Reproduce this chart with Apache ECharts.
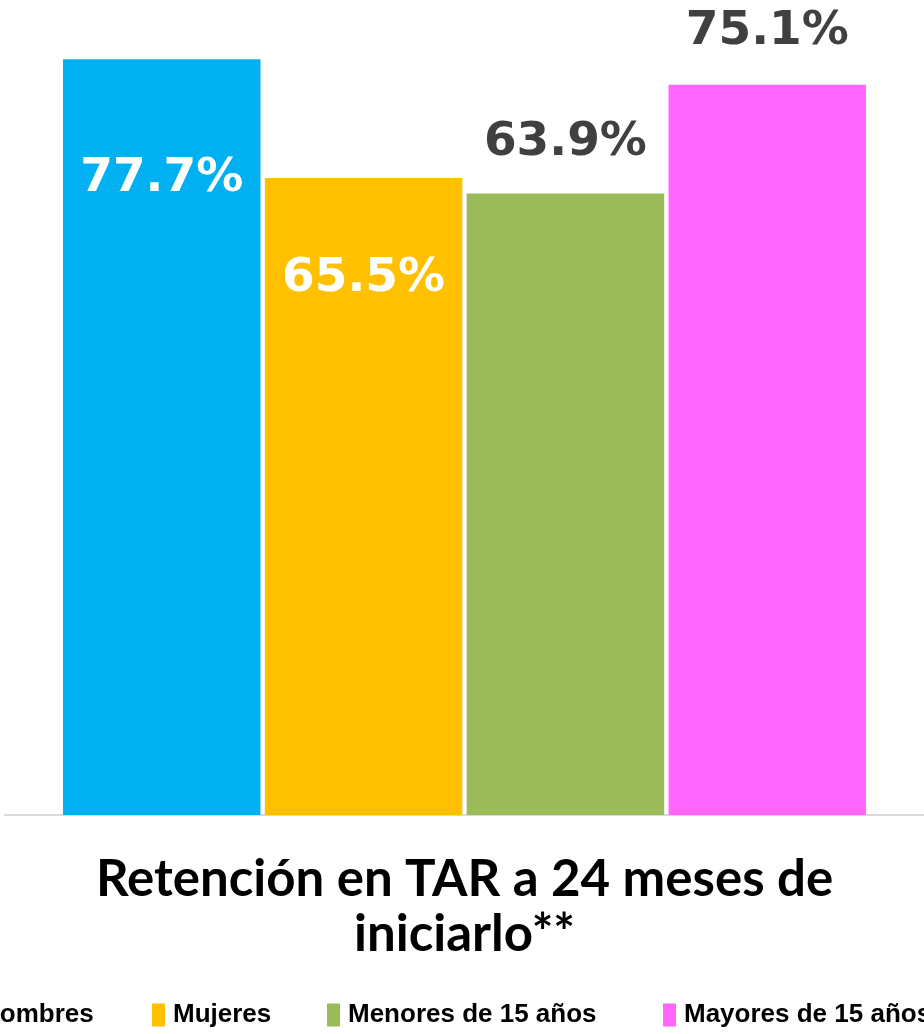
<!DOCTYPE html>
<html>
<head>
<meta charset="utf-8">
<script src="https://cdn.jsdelivr.net/npm/echarts@6/dist/echarts.min.js"></script>
<style>
  html, body { margin: 0; padding: 0; background: #ffffff; }
  #chart { width: 924px; height: 1034px; }
</style>
</head>
<body>
<div id="chart"></div>
<script>
// Retención en TAR a 24 meses, por grupo
const categories = ['Retención en TAR a 24 meses de\niniciarlo**'];
const seriesNames = ['Hombres', 'Mujeres', 'Menores de 15 años', 'Mayores de 15 años'];
const hombres = [77.7];
const mujeres = [65.5];
const menores15 = [63.9];
const mayores15 = [75.1];

const colors = ['#00B0F0', '#FFC000', '#9BBB59', '#FF66FF'];
const values = [hombres, mujeres, menores15, mayores15];

// Value labels: white inside the first two bars, dark grey above the other two
const labelBase = {
  show: true,
  fontFamily: 'DejaVu Sans',
  fontWeight: 'bold',
  fontSize: 47,
  formatter: '{c}%'
};
const labelStyles = [
  Object.assign({}, labelBase, { position: 'insideTop', distance: 96, color: '#ffffff' }),
  Object.assign({}, labelBase, { position: 'insideTop', distance: 77, color: '#ffffff' }),
  Object.assign({}, labelBase, { position: 'top', distance: 27, color: '#404040' }),
  Object.assign({}, labelBase, { position: 'top', distance: 29, color: '#404040' })
];

const series = seriesNames.map((name, i) => ({
  name: name,
  type: 'bar',
  data: values[i],
  barWidth: 197.5,
  barGap: '2.2%',
  itemStyle: { color: colors[i] },
  label: labelStyles[i]
}));

// One legend per entry so each can sit at its own spot along the bottom row
const legendLeft = [-40, 152, 327, 663];
const legends = seriesNames.map((name, i) => ({
  data: [name],
  left: legendLeft[i],
  top: 1002,
  padding: 0,
  icon: 'rect',
  itemWidth: 13,
  itemHeight: 23,
  selectedMode: false,
  textStyle: {
    fontFamily: '"Liberation Sans", Arial, sans-serif',
    fontWeight: 'bold',
    fontSize: 26,
    lineHeight: 23,
    color: '#000000',
    padding: [0, 0, 0, 3]
  }
}));

const chart = echarts.init(document.getElementById('chart'), null, { renderer: 'canvas' });
chart.setOption({
  animation: false,
  backgroundColor: '#ffffff',
  color: colors,
  grid: { left: 5, right: 0, top: 37, bottom: 219, containLabel: false },
  legend: legends,
  xAxis: {
    type: 'category',
    data: categories,
    axisLine: { show: true, lineStyle: { color: '#d9d9d9', width: 2 } },
    axisTick: { show: false },
    axisLabel: {
      margin: 37,
      color: '#000000',
      fontFamily: 'Lato, "Noto Sans", sans-serif',
      fontWeight: 'bold',
      fontSize: 51,
      lineHeight: 55,
      align: 'center'
    }
  },
  yAxis: {
    type: 'value',
    min: 0,
    max: 80,
    show: false,
    splitLine: { show: false }
  },
  series: series
});
</script>
</body>
</html>
